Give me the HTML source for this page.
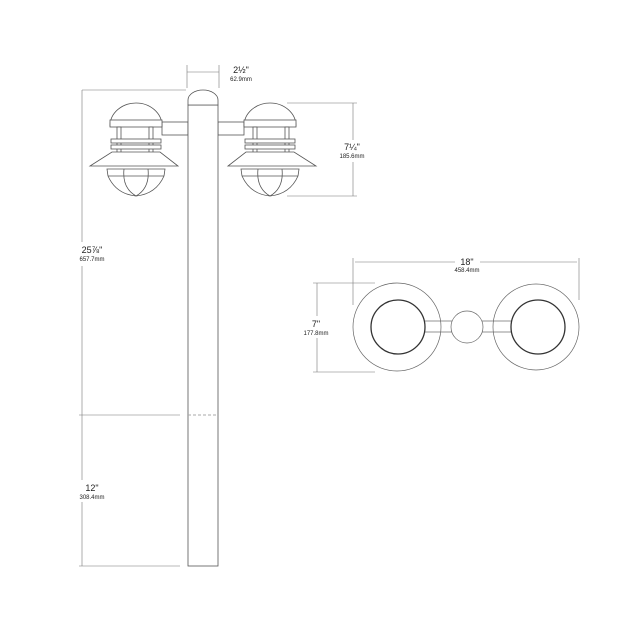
<!DOCTYPE html>
<html><head><style>
body{margin:0;background:#fff;}
svg{display:block;font-family:"Liberation Sans",sans-serif;}
</style></head><body>
<svg width="640" height="640" viewBox="0 0 640 640" xmlns="http://www.w3.org/2000/svg">
<defs>
<g id="lamp" fill="#fff" stroke="#555" stroke-width="0.8">
  <path d="M-26,126 A26,23 0 0 1 26,126 Z"/>
  <rect x="-26" y="120" width="52" height="7"/>
  <rect x="-19" y="127" width="4" height="26"/>
  <rect x="13" y="127" width="4" height="26"/>
  <rect x="-25" y="139" width="50" height="4"/>
  <rect x="-25" y="145" width="50" height="4"/>
  <path d="M-24,152 L24,152 L42,166 L-46,166 Z"/>
  <path d="M-29,169 L29,169 L28,176 Q20,194 0,196 Q-20,194 -28,176 Z"/>
  <path d="M-12,169 Q-14,188 0,196 M12,169 Q14,188 0,196 M-28,176 L28,176" fill="none"/>
</g>
</defs>
<g fill="#fff" stroke="#555" stroke-width="0.8">
<rect x="162" y="122" width="26" height="13"/>
<rect x="218" y="122" width="26" height="13"/>
<rect x="188" y="105" width="30" height="461"/>
<path d="M188,105 L188,100 A15,10 0 0 1 218,100 L218,105 Z"/>
</g>
<line x1="188" y1="415" x2="218" y2="415" stroke="#aaa" stroke-dasharray="3,2"/>
<use href="#lamp" transform="translate(136,0)"/>
<use href="#lamp" transform="translate(270,0) scale(-1,1)"/>
<g stroke="#777" stroke-width="0.6" fill="none">
<line x1="187" y1="65" x2="187" y2="88"/><line x1="219" y1="65" x2="219" y2="88"/>
<line x1="187" y1="72" x2="219" y2="72"/>
<line x1="82" y1="90" x2="186" y2="90"/>
<line x1="82" y1="90" x2="82" y2="242"/><line x1="82" y1="266" x2="82" y2="480"/><line x1="82" y1="502" x2="82" y2="566"/>
<line x1="79" y1="415" x2="180" y2="415"/>
<line x1="79" y1="566" x2="180" y2="566"/>
<line x1="287" y1="103" x2="357" y2="103"/><line x1="287" y1="196" x2="357" y2="196"/>
<line x1="353" y1="103" x2="353" y2="140"/><line x1="353" y1="162" x2="353" y2="196"/>
<line x1="353" y1="258" x2="353" y2="305"/><line x1="579" y1="258" x2="579" y2="300"/>
<line x1="355" y1="262" x2="455" y2="262"/><line x1="480" y1="262" x2="577" y2="262"/>
<line x1="313" y1="283" x2="375" y2="283"/><line x1="313" y1="372" x2="375" y2="372"/>
<line x1="317" y1="283" x2="317" y2="316"/><line x1="317" y1="338" x2="317" y2="372"/>
</g>
<g fill="#222" text-anchor="middle">
<text x="241" y="73" font-size="9">2½"</text><text x="241" y="81" font-size="6">62.9mm</text>
<text x="92" y="253" font-size="9">25⅞"</text><text x="92" y="261" font-size="6">657.7mm</text>
<text x="92" y="491" font-size="9">12"</text><text x="92" y="499" font-size="6">308.4mm</text>
<text x="352" y="150" font-size="9">7¼"</text><text x="352" y="158" font-size="6">185.6mm</text>
<text x="467" y="265" font-size="9">18"</text><text x="467" y="272" font-size="6">458.4mm</text>
<text x="316" y="327" font-size="9">7"</text><text x="316" y="335" font-size="6">177.8mm</text>
</g>
<g fill="#fff" stroke="#666" stroke-width="0.7">
<rect x="422" y="321" width="32" height="11"/>
<rect x="480" y="321" width="33" height="11"/>
<circle cx="397" cy="327" r="44" fill="none"/>
<circle cx="536" cy="327" r="43" fill="none"/>
<circle cx="398" cy="327" r="27" stroke="#333" stroke-width="1.3"/>
<circle cx="538" cy="327" r="27" stroke="#333" stroke-width="1.3"/>
<circle cx="467" cy="327" r="16"/>
</g>
</svg>
</body></html>
